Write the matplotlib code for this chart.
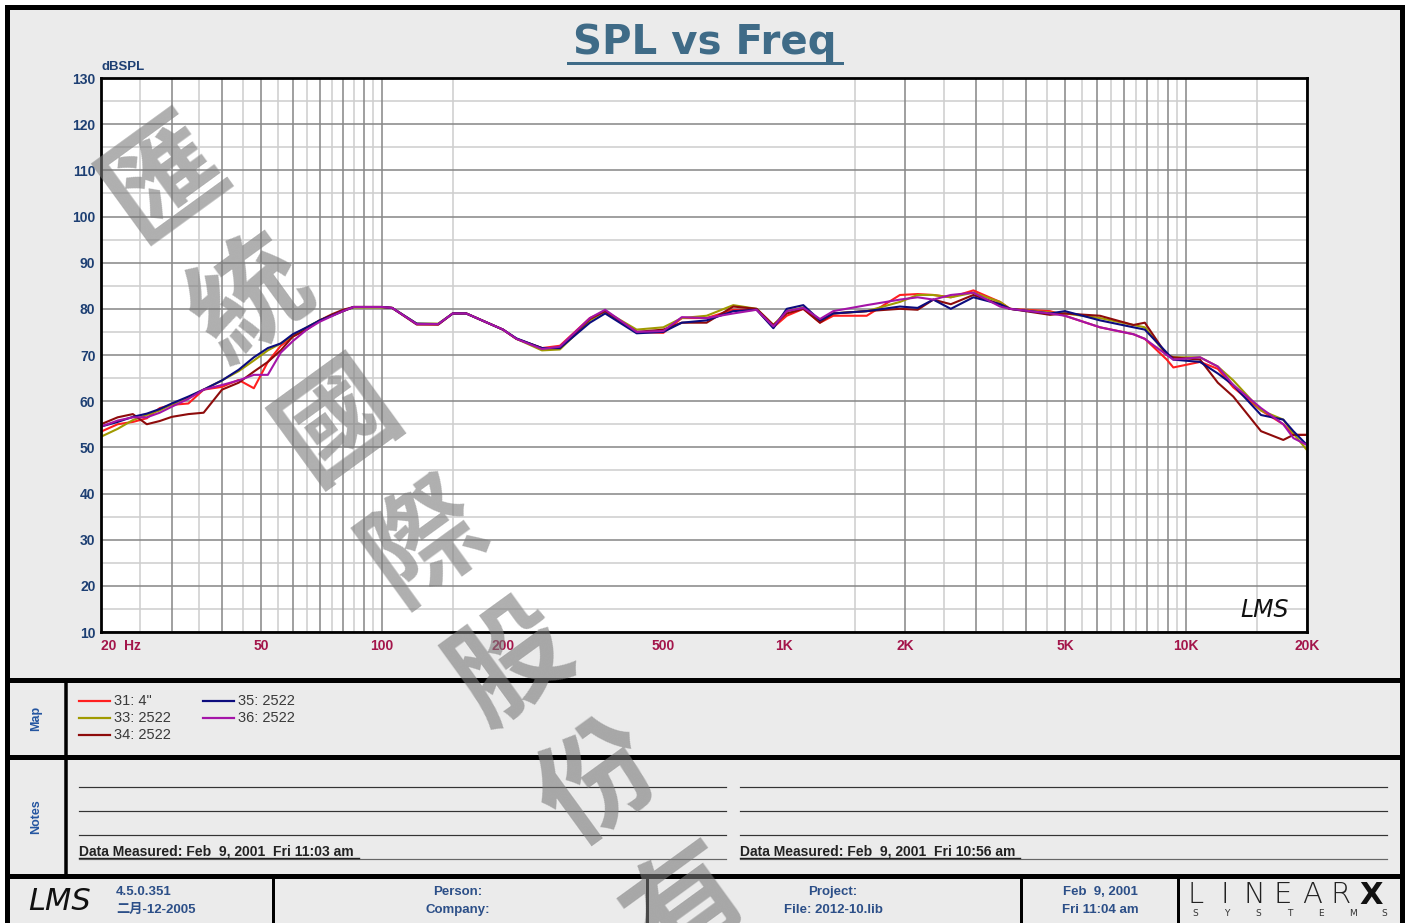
import matplotlib
matplotlib.use('Agg')
import matplotlib.pyplot as plt
from matplotlib.patches import Rectangle

# ---------------- data ----------------
freq = [20, 22, 24, 26, 28, 30, 33, 36, 40, 44, 48, 52, 56, 60, 65, 70, 75, 80, 85,
        100, 106, 122, 138, 150, 162, 200, 216, 250, 277, 329, 359, 430, 501, 557,
        642, 748, 855, 941, 1016, 1117, 1229, 1326, 1606, 1943, 2150, 2352, 2600,
        2959, 3447, 3650, 4590, 5000, 6110, 7400, 7900, 8960, 9300, 10840, 12000,
        13110, 15370, 17460, 18500, 20000]

spl_31 = [53.4, 55.0, 55.5, 56.3, 58.5, 59.2, 59.5, 62.5, 63.1, 64.6, 62.8, 68.5, 72.0,
          74.0, 75.8, 77.5, 78.6, 79.5, 80.4, 80.4, 80.2, 76.7, 76.6, 79.0, 79.0, 75.5,
          73.5, 71.5, 72.0, 78.0, 79.5, 75.0, 74.8, 78.0, 78.0, 79.8, 79.8, 76.0, 78.5,
          80.0, 77.0, 78.5, 78.5, 83.0, 83.2, 83.0, 82.5, 84.0, 81.5, 80.0, 79.5, 78.5,
          76.0, 74.5, 73.5, 69.0, 67.3, 68.5, 67.0, 63.0, 58.0, 55.0, 52.7, 52.7]
spl_33 = [52.3, 54.0, 55.9, 57.0, 58.0, 59.3, 60.8, 62.5, 64.5, 66.5, 68.8, 71.0, 72.5,
          74.2, 76.0, 77.5, 78.5, 79.6, 80.3, 80.3, 80.2, 76.8, 76.8, 79.0, 79.0, 75.5,
          73.5, 71.0, 71.2, 77.5, 79.5, 75.5, 76.0, 78.0, 78.5, 80.8, 80.0, 76.5, 79.5,
          80.3, 77.5, 79.0, 79.5, 81.5, 83.0, 83.0, 82.5, 83.5, 81.5, 80.0, 79.2, 79.0,
          78.0, 76.5, 76.0, 70.0, 69.5, 69.5, 67.5, 64.5, 58.0, 56.0, 53.0, 49.4]
spl_34 = [55.0, 56.5, 57.2, 55.0, 55.7, 56.6, 57.2, 57.5, 62.5, 64.0, 66.4, 68.5, 71.0,
          74.0, 75.5, 77.5, 78.8, 79.8, 80.4, 80.4, 80.2, 76.6, 76.6, 79.0, 79.0, 75.5,
          73.5, 71.5, 71.5, 77.8, 79.5, 75.0, 75.5, 77.0, 77.0, 80.5, 80.0, 76.5, 79.0,
          80.0, 77.0, 79.0, 79.5, 80.0, 79.8, 82.0, 81.0, 83.0, 81.0, 80.0, 78.7, 79.0,
          78.5, 76.5, 77.0, 70.0, 69.5, 69.0, 64.0, 61.0, 53.5, 51.6, 52.7, 52.7]
spl_35 = [54.5, 55.5, 56.6, 57.3, 58.3, 59.5, 61.0, 62.5, 64.5, 66.8, 69.5, 71.5, 72.5,
          74.5, 76.0, 77.5, 78.5, 79.5, 80.4, 80.4, 80.2, 76.8, 76.7, 79.0, 79.0, 75.5,
          73.6, 71.5, 71.5, 77.0, 79.0, 74.7, 75.0, 77.0, 77.5, 79.5, 79.8, 75.8, 80.0,
          80.8, 77.5, 79.0, 79.5, 80.5, 80.2, 82.0, 80.0, 82.5, 81.0, 80.0, 79.0, 79.5,
          77.5, 76.0, 75.5, 70.5, 69.0, 68.5, 66.0, 63.5, 57.0, 56.0, 53.5, 50.5]
spl_36 = [54.5, 55.8, 56.5, 56.5, 57.5, 58.8, 60.5, 62.5, 63.5, 64.5, 65.7, 65.7, 70.5,
          73.0, 75.5, 77.2, 78.4, 79.5, 80.4, 80.4, 80.2, 76.7, 76.7, 79.0, 79.0, 75.5,
          73.5, 71.3, 71.8, 78.0, 79.8, 75.0, 75.2, 78.2, 78.0, 79.0, 79.8, 76.2, 79.5,
          80.2, 77.8, 79.5, 80.8, 82.0, 82.5, 82.0, 83.0, 83.5, 80.5, 80.0, 79.0, 78.5,
          76.0, 74.5, 73.5, 70.0, 69.0, 69.5, 67.5, 63.5, 58.5, 55.0, 52.0, 50.5]

series_labels = ['31: 4"', '33: 2522', '34: 2522', '35: 2522', '36: 2522']
series_values = [spl_31, spl_33, spl_34, spl_35, spl_36]
series_colors = ['#ff1f1f', '#a09a00', '#8e0b0b', '#0c0c7e', '#a414a8']

y_ticks = [10, 20, 30, 40, 50, 60, 70, 80, 90, 100, 110, 120, 130]
x_ticks = [20, 50, 100, 200, 500, 1000, 2000, 5000, 10000, 20000]
x_tick_labels = ['20  Hz', '50', '100', '200', '500', '1K', '2K', '5K', '10K', '20K']

watermark_chars = ['匯', '統', '國', '際', '股', '份', '有']

# ---------------- layout ----------------
W, H = 1409, 923
FONT = 'Liberation Sans'
BLUE = '#1d3f73'
TXTBLUE = '#2c4f88'
CRIMSON = '#a3154a'

fig = plt.figure(figsize=(W / 100, H / 100), dpi=100)
fig.patch.set_facecolor('white')

bg = fig.add_axes([0, 0, 1, 1], zorder=0)
bg.set_xlim(0, W)
bg.set_ylim(H, 0)
bg.axis('off')

def px(v):
    return v * 0.72

# main frame
bg.add_patch(Rectangle((7, 7), 1395, 925, facecolor='#ebebeb', edgecolor='black',
                       linewidth=px(5)))
for yy in (680, 757, 876):
    bg.plot([7, 1402], [yy, yy], color='black', lw=px(5), solid_capstyle='butt')
bg.plot([66, 66], [680, 876], color='black', lw=px(3.5))
for xx in (273, 647, 1021, 1178):
    bg.plot([xx, xx], [876, 923], color='black', lw=px(3))

# title
bg.text(705, 43, 'SPL vs Freq', ha='center', va='center', fontsize=29,
        fontweight='bold', color='#3f6b87', family='DejaVu Sans')
bg.plot([568, 842], [63, 63], color='#3f6b87', lw=px(3))
bg.text(102, 67, 'dBSPL', ha='left', va='center', fontsize=9.5, fontweight='bold',
        color=BLUE, family=FONT)

# ---------------- plot ----------------
ax = fig.add_axes([101 / W, 1 - 632 / H, 1206 / W, 554 / H], zorder=2)
ax.set_facecolor('white')
ax.set_xscale('log')
ax.set_xlim(20, 20000)
ax.set_ylim(10, 130)

dark_v, light_v = [], []
for dec in (10, 100, 1000):
    if dec == 10:
        for k in range(20, 101, 5):
            (dark_v if k % 10 == 0 else light_v).append(k)
    else:
        light_v.append(1.5 * dec)
        for k in range(20, 101, 5):
            (dark_v if k % 10 == 0 else light_v).append(k * dec)
dark_v.append(20000)
light_v.append(15000)
for v in light_v:
    ax.axvline(v, color='#cfcfcf', lw=px(1.6), zorder=1)
for v in dark_v:
    ax.axvline(v, color='#8a8a8a', lw=px(1.6), zorder=1.1)
for v in range(15, 130, 10):
    ax.axhline(v, color='#cfcfcf', lw=px(1.6), zorder=1)
for v in y_ticks:
    ax.axhline(v, color='#8a8a8a', lw=px(1.6), zorder=1.1)

for vals, col, lab in zip(series_values, series_colors, series_labels):
    ax.plot(freq, vals, color=col, lw=1.5, label=lab, zorder=3)

ax.minorticks_off()
ax.set_yticks(y_ticks)
ax.set_yticklabels([str(v) for v in y_ticks], fontsize=10, fontweight='bold',
                   color=BLUE, family=FONT)
ax.set_xticks(x_ticks)
ax.set_xticklabels(x_tick_labels, fontsize=10, fontweight='bold', color=CRIMSON,
                   family=FONT)
ax.get_xticklabels()[0].set_horizontalalignment('left')
ax.tick_params(axis='both', length=0)
ax.tick_params(axis='x', pad=5)
ax.tick_params(axis='y', pad=4)
for s in ax.spines.values():
    s.set_linewidth(2.0)
    s.set_color('black')
    s.set_zorder(4)

ax.text(0.965, 0.04, 'LMS', transform=ax.transAxes, ha='center', va='center',
        fontsize=17, fontstyle='italic', color='#111111', family='DejaVu Sans',
        fontweight='light', zorder=5)

# ---------------- map (legend) ----------------
bg.text(36, 718, 'Map', rotation=90, ha='center', va='center', fontsize=9,
        fontweight='bold', color='#2455a0', family=FONT)
leg_pos = [(79, 701), (79, 718), (79, 735), (203, 701), (203, 718)]
for (lx, ly), col, lab in zip(leg_pos, series_colors, series_labels):
    bg.plot([lx, lx + 31], [ly, ly], color=col, lw=px(2.2))
    bg.text(lx + 35, ly, lab, ha='left', va='center', fontsize=10.5, color='#3a3a3a',
            family=FONT)

# ---------------- notes ----------------
bg.text(36, 817, 'Notes', rotation=90, ha='center', va='center', fontsize=9,
        fontweight='bold', color='#2455a0', family=FONT)
for x0, x1, note in ((79, 726, 'Data Measured: Feb  9, 2001  Fri 11:03 am'),
                     (740, 1387, 'Data Measured: Feb  9, 2001  Fri 10:56 am')):
    for yy in (787, 811, 835):
        bg.plot([x0, x1], [yy, yy], color='#333333', lw=px(1.2))
    bg.plot([x0, x1], [859, 859], color='#666666', lw=px(1.2))
    bg.text(x0, 852, note, ha='left', va='center', fontsize=10, fontweight='bold',
            color='#222222', family=FONT)
    bg.plot([x0, x0 + 280], [857.5, 857.5], color='#222222', lw=px(1.4))

# ---------------- bottom bar ----------------
bg.text(60, 901, 'LMS', ha='center', va='center', fontsize=22, fontstyle='italic',
        fontweight='light', color='#111111', family='DejaVu Sans')
bg.text(116, 892, '4.5.0.351', ha='left', va='center', fontsize=9.5, fontweight='bold',
        color=TXTBLUE, family=FONT)
bg.text(116, 910, '二月-12-2005', ha='left', va='center', fontsize=9.5, fontweight='bold',
        color=TXTBLUE, family=[FONT, 'Noto Sans CJK TC'])
for cx, l1, l2 in ((458, 'Person:', 'Company:'),
                   (833, 'Project:', 'File: 2012-10.lib'),
                   (1100, 'Feb  9, 2001', 'Fri 11:04 am')):
    bg.text(cx, 892, l1, ha='center', va='center', fontsize=9.5, fontweight='bold',
            color=TXTBLUE, family=FONT)
    bg.text(cx, 910, l2, ha='center', va='center', fontsize=9.5, fontweight='bold',
            color=TXTBLUE, family=FONT)
for i, ch in enumerate('LINEAR'):
    bg.text(1196 + i * 29, 895, ch, ha='center', va='center', fontsize=21,
            color='#222222', family='DejaVu Sans', fontweight='light')
bg.text(1371, 895, 'X', ha='center', va='center', fontsize=22, fontweight='bold',
        color='#111111', family='DejaVu Sans')
for i, ch in enumerate('SYSTEMS'):
    bg.text(1195 + i * 31.5, 913, ch, ha='center', va='center', fontsize=6.5,
            color='#333333', family='DejaVu Sans')

# ---------------- watermark ----------------
ov = fig.add_axes([0, 0, 1, 1], zorder=10)
ov.set_xlim(0, W)
ov.set_ylim(H, 0)
ov.axis('off')
ov.patch.set_alpha(0)
x_start, y_start, step_x, step_y = 165, 180, 87, 121
for i, ch in enumerate(watermark_chars):
    ov.text(x_start + i * step_x, y_start + i * step_y, ch, ha='center', va='center',
            fontsize=84, rotation=36, color='#7a7a7a', alpha=0.6, fontweight='bold',
            family='Noto Sans CJK TC', clip_on=True)

fig.savefig('out.png', dpi=100, facecolor='white')
